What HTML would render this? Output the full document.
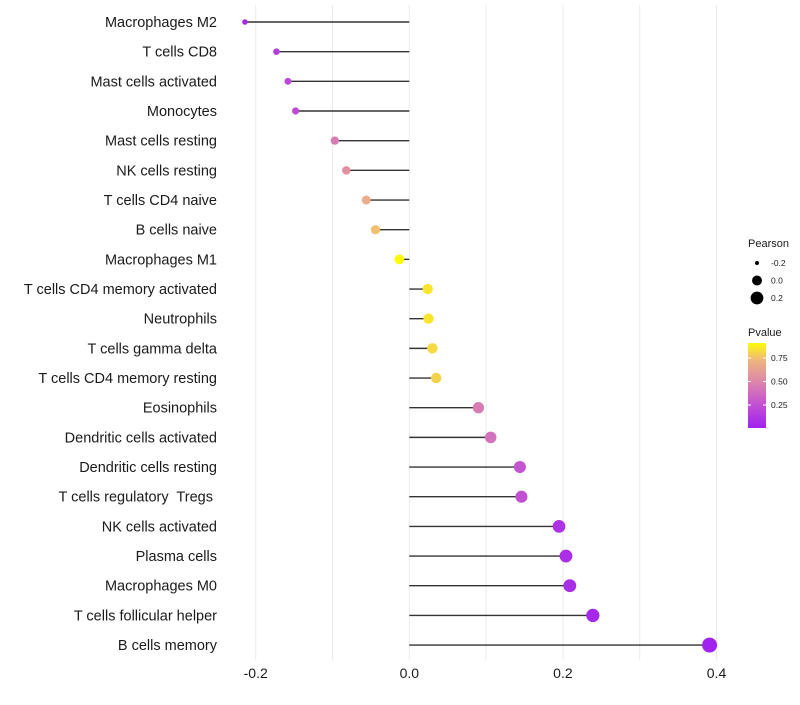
<!DOCTYPE html>
<html><head><meta charset="utf-8"><style>
body{margin:0;background:#fff;font-family:"Liberation Sans",sans-serif}
svg text{font-family:"Liberation Sans",sans-serif;white-space:pre}
</style></head><body>
<svg id="chart" width="800" height="700"></svg>
<script>
const categories=["Macrophages M2","T cells CD8","Mast cells activated","Monocytes","Mast cells resting","NK cells resting","T cells CD4 naive","B cells naive","Macrophages M1","T cells CD4 memory activated","Neutrophils","T cells gamma delta","T cells CD4 memory resting","Eosinophils","Dendritic cells activated","Dendritic cells resting","T cells regulatory  Tregs ","NK cells activated","Plasma cells","Macrophages M0","T cells follicular helper","B cells memory"];
const pearson=[-0.214,-0.173,-0.158,-0.148,-0.097,-0.082,-0.056,-0.044,-0.013,0.024,0.025,0.030,0.035,0.090,0.106,0.144,0.146,0.195,0.204,0.209,0.239,0.391];
const pvalue=[0.05,0.15,0.2,0.22,0.45,0.55,0.68,0.75,0.91,0.85,0.85,0.82,0.8,0.45,0.4,0.27,0.25,0.1,0.08,0.07,0.04,0.005];
const xTicks=[-0.2,0,0.2,0.4];
const xTickLabels=["-0.2","0.0","0.2","0.4"];
const gridVals=[-0.2,-0.1,0,0.1,0.2,0.3,0.4];
const sizeLegend=[-0.2,0.0,0.2];
const colorLegend=[0.25,0.5,0.75];

const NS="http://www.w3.org/2000/svg";
const svg=document.getElementById('chart');
function el(t,a,p){const e=document.createElementNS(NS,t);for(const k in a)e.setAttribute(k,a[k]);(p||svg).appendChild(e);return e;}
const x=v=>409.3+v*768;
const y=i=>22+i*29.67;
const r=v=>Math.sqrt(Math.max(2.5,24.8+80*v));
const stops=[[0,[160,32,240]],[0.3,[200,90,205]],[0.5,[220,135,170]],[0.72,[238,180,130]],[0.92,[255,255,0]]];
function col(p){for(let i=1;i<stops.length;i++){if(p<=stops[i][0]){const a=stops[i-1],b=stops[i];const t=(p-a[0])/(b[0]-a[0]);return 'rgb('+a[1].map((c,j)=>Math.round(c+(b[1][j]-c)*t)).join(',')+')';}}return 'rgb(255,255,0)';}

gridVals.forEach(v=>{const g=el('line',{x1:x(v),x2:x(v),y1:5,y2:660,stroke:'#ebebeb','stroke-width':1});

});
xTicks.forEach((v,i)=>{const t=el('text',{x:x(v),y:678,'text-anchor':'middle','font-size':14,fill:'#1a1a1a'});t.textContent=xTickLabels[i];

});
categories.forEach((c,i)=>{
const t=el('text',{x:217,y:y(i)+5,'text-anchor':'end','font-size':14.5,fill:'#1a1a1a'});t.textContent=c;


const l=el('line',{x1:x(0),x2:x(pearson[i]),y1:y(i),y2:y(i),stroke:'#333','stroke-width':1.4});


const d=el('circle',{cx:x(pearson[i]),cy:y(i),r:r(pearson[i]),fill:col(pvalue[i])});


});
const lt=el('text',{x:748,y:247,'font-size':11,fill:'#1a1a1a'});lt.textContent='Pearson';


sizeLegend.forEach((v,i)=>{const cy=263+i*17.5;
const c=el('circle',{cx:757,cy:cy,r:r(v)-(i==0?1:0),fill:'#000'});


const t=el('text',{x:771,y:cy+3,'font-size':8.5,fill:'#1a1a1a'});t.textContent=v===0?'0.0':String(v);

});
const pt=el('text',{x:748,y:336,'font-size':11,fill:'#1a1a1a'});pt.textContent='Pvalue';


const defs=el('defs',{});const lg=el('linearGradient',{id:'pg',x1:0,y1:1,x2:0,y2:0},defs);
const pmin=0.005,pmax=0.91;
for(let k=0;k<=10;k++){const p=pmin+(pmax-pmin)*k/10;el('stop',{offset:k/10,'stop-color':col(p)},lg);}
const cb=el('rect',{x:748,y:343,width:18,height:85,fill:'url(#pg)'});


const cy=p=>428-(p-pmin)/(pmax-pmin)*85;
colorLegend.forEach(p=>{el('line',{x1:748,x2:751,y1:cy(p),y2:cy(p),stroke:'#fff'});el('line',{x1:763,x2:766,y1:cy(p),y2:cy(p),stroke:'#fff'});
const t=el('text',{x:771,y:cy(p)+3,'font-size':8.5,fill:'#1a1a1a'});t.textContent=p.toFixed(2);

});
</script>
</body></html>
